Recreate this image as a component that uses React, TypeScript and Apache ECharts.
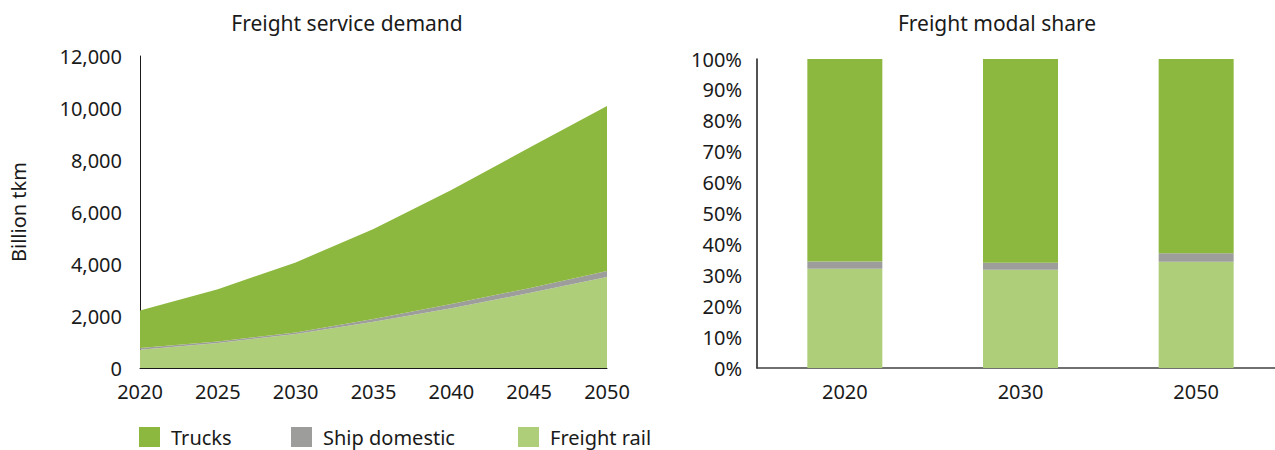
import React, { useEffect, useRef } from "react";
import * as echarts from "echarts";

const years = ["2020", "2025", "2030", "2035", "2040", "2045", "2050"];
const freightRail = [700, 960, 1310, 1780, 2300, 2880, 3500];
const shipDomestic = [70, 60, 60, 100, 160, 190, 230];
const trucks = [1445, 2010, 2690, 3470, 4390, 5400, 6350];

const shareYears = ["2020", "2030", "2050"];
const shareRail = [32.1, 31.8, 34.4];
const shareShip = [2.4, 2.3, 2.7];
const shareTrucks = [65.5, 65.9, 62.9];

const leftTicks = [0, 2000, 4000, 6000, 8000, 10000, 12000];
const legendNames = ["Trucks", "Ship domestic", "Freight rail"];

const C_TRUCKS = "#8db83f";
const C_SHIP = "#9d9d9c";
const C_RAIL = "#afce7a";
const FONT = "Noto Sans";
const TXT = "#1a1a1a";

export default function App() {
  const ref = useRef<HTMLDivElement>(null);
  useEffect(() => {
    if (!ref.current) return;
    const chart = echarts.init(ref.current, null, { renderer: "svg" });
    const labelStyle = { color: TXT, fontFamily: FONT, fontSize: 20 };
    const legendLefts = [139, 291, 518];
    chart.setOption({
      animation: false,
      backgroundColor: "#ffffff",
      textStyle: { fontFamily: FONT },
      title: [
        {
          text: "Freight service demand",
          left: 347,
          textAlign: "center",
          top: 12,
          padding: 0,
          textStyle: { color: TXT, fontFamily: FONT, fontSize: 21, fontWeight: "normal" },
        },
        {
          text: "Freight modal share",
          left: 997,
          textAlign: "center",
          top: 12,
          padding: 0,
          textStyle: { color: TXT, fontFamily: FONT, fontSize: 21, fontWeight: "normal" },
        },
      ],
      legend: legendNames.map((n, i) => ({
        data: [n],
        left: legendLefts[i],
        top: 427,
        padding: 0,
        itemWidth: 21,
        itemHeight: 20,
        icon: "rect",
        textStyle: { color: TXT, fontFamily: FONT, fontSize: 20, padding: [0, 0, 0, 6] },
      })),
      grid: [
        { left: 140, width: 467, top: 56, height: 312, outerBoundsMode: "none", containLabel: false },
        { left: 757, width: 527, top: 59, height: 309, outerBoundsMode: "none", containLabel: false },
      ],
      xAxis: [
        {
          type: "category",
          gridIndex: 0,
          data: years,
          boundaryGap: false,
          axisLine: { lineStyle: { color: "#1a1a1a", width: 1 } },
          axisTick: { show: false },
          axisLabel: { ...labelStyle, margin: 13 },
          splitLine: { show: false },
        },
        {
          type: "category",
          gridIndex: 1,
          data: shareYears,
          axisLine: { lineStyle: { color: "#404040", width: 1.5 } },
          axisTick: { show: false },
          axisLabel: { ...labelStyle, margin: 13 },
          splitLine: { show: false },
        },
      ],
      yAxis: [
        {
          type: "value",
          gridIndex: 0,
          min: leftTicks[0],
          max: leftTicks[leftTicks.length - 1],
          interval: 2000,
          name: "Billion tkm",
          nameLocation: "middle",
          nameGap: 112,
          nameRotate: 90,
          nameTextStyle: { color: TXT, fontFamily: FONT, fontSize: 20 },
          axisLine: { show: true, lineStyle: { color: "#1a1a1a", width: 1 } },
          axisTick: { show: false },
          axisLabel: {
            ...labelStyle,
            margin: 18,
            formatter: (v: number) => v.toLocaleString("en-US"),
          },
          splitLine: { show: false },
        },
        {
          type: "value",
          gridIndex: 1,
          min: 0,
          max: 100,
          interval: 10,
          axisLine: { show: true, lineStyle: { color: "#1a1a1a", width: 1.5 } },
          axisTick: { show: false },
          axisLabel: { ...labelStyle, margin: 15, formatter: "{value}%" },
          splitLine: { show: false },
        },
      ],
      series: [
        {
          name: "Freight rail",
          type: "line",
          xAxisIndex: 0,
          yAxisIndex: 0,
          stack: "demand",
          data: freightRail,
          symbol: "none",
          lineStyle: { width: 0 },
          areaStyle: { color: C_RAIL, opacity: 1 },
          itemStyle: { color: C_RAIL },
        },
        {
          name: "Ship domestic",
          type: "line",
          xAxisIndex: 0,
          yAxisIndex: 0,
          stack: "demand",
          data: shipDomestic,
          symbol: "none",
          lineStyle: { width: 0 },
          areaStyle: { color: C_SHIP, opacity: 1 },
          itemStyle: { color: C_SHIP },
        },
        {
          name: "Trucks",
          type: "line",
          xAxisIndex: 0,
          yAxisIndex: 0,
          stack: "demand",
          data: trucks,
          symbol: "none",
          lineStyle: { width: 0 },
          areaStyle: { color: C_TRUCKS, opacity: 1 },
          itemStyle: { color: C_TRUCKS },
        },
        {
          name: "Freight rail",
          type: "bar",
          xAxisIndex: 1,
          yAxisIndex: 1,
          stack: "share",
          data: shareRail,
          barWidth: 75,
          itemStyle: { color: C_RAIL },
        },
        {
          name: "Ship domestic",
          type: "bar",
          xAxisIndex: 1,
          yAxisIndex: 1,
          stack: "share",
          data: shareShip,
          barWidth: 75,
          itemStyle: { color: C_SHIP },
        },
        {
          name: "Trucks",
          type: "bar",
          xAxisIndex: 1,
          yAxisIndex: 1,
          stack: "share",
          data: shareTrucks,
          barWidth: 75,
          itemStyle: { color: C_TRUCKS },
        },
      ],
    });
    return () => chart.dispose();
  }, []);
  return (
    <div
      ref={ref}
      style={{ position: "fixed", left: 0, top: 0, width: 1275, height: 450, overflow: "hidden" }}
    />
  );
}
